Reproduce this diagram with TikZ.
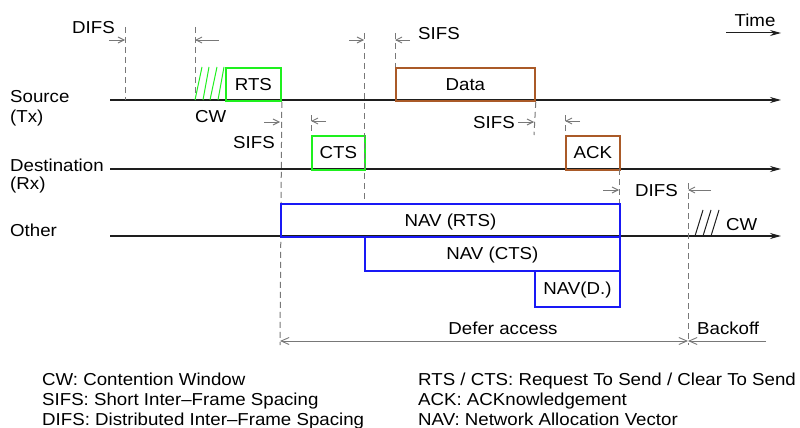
\documentclass[tikz,border=0pt]{standalone}
\usepackage{fontspec}
\setmainfont{Liberation Sans}[FakeStretch=1.08]
\usetikzlibrary{arrows.meta}
\definecolor{cgreen}{RGB}{30,240,30}
\definecolor{cbrown}{RGB}{170,90,40}
\definecolor{cblue}{RGB}{25,25,245}
\definecolor{cgray}{RGB}{120,120,120}
\definecolor{caxis}{RGB}{30,30,30}
\newcommand\myfs{\fontsize{17.3}{20}\selectfont}
\begin{document}
\begin{tikzpicture}[x=1pt,y=-1pt,
  lbl/.style={font=\myfs, inner sep=0pt},
  axisline/.style={draw=caxis, line width=1.4pt, -{Stealth[length=11pt,width=6pt]}},
  vdash/.style={draw=cgray, line width=1pt, dash pattern=on 6pt off 4pt},
  chev/.style={draw=cgray, line width=0.9pt, -{Straight Barb[length=6pt,width=6pt]}},
  defer/.style={draw=cgray, line width=0.9pt},
  boxframe/.style={rectangle, line width=1.8pt, inner sep=0pt, anchor=north west,
    font=\myfs, text height=12pt, text depth=0pt, align=center},
  gbox/.style={boxframe, draw=cgreen},
  bbox/.style={boxframe, draw=cbrown},
  nbox/.style={boxframe, draw=cblue},
  hatchg/.style={draw=cgreen, line width=1pt},
  hatchk/.style={draw=caxis, line width=1pt}
]
\useasboundingbox (0,0) rectangle (800,428);

% axes
\coordinate (s0) at (110,100); \coordinate (s1) at (781,100);
\coordinate (d0) at (110,169); \coordinate (d1) at (781,169);
\coordinate (o0) at (110,236); \coordinate (o1) at (781,236);
\coordinate (t0) at (726,33);  \coordinate (t1) at (781,33);
\draw[axisline] (s0) -- (s1);
\draw[axisline] (d0) -- (d1);
\draw[axisline] (o0) -- (o1);
\draw[axisline, line width=1pt] (t0) -- (t1);
\node[lbl, anchor=base] (time) at (755,27) {Time};

% row labels
\node[lbl, anchor=base west] (srcl) at (10,102) {Source};
\node[lbl, anchor=base west] (txl) at (10,122) {(Tx)};
\node[lbl, anchor=base west] (dstl) at (10,171) {Destination};
\node[lbl, anchor=base west] (rxl) at (10,189) {(Rx)};
\node[lbl, anchor=base west] (othl) at (10,236) {Other};

% frames
\node[gbox, minimum width=55pt, minimum height=33pt] (rts) at (225,67) {RTS};
\node[bbox, minimum width=139pt, minimum height=33pt] (data) at (395,67) {Data};
\node[gbox, minimum width=53pt, minimum height=34pt] (cts) at (311,135) {CTS};
\node[bbox, minimum width=54pt, minimum height=34pt] (ack) at (565,135) {ACK};

% dashed markers
\coordinate (a1) at (125,27); \coordinate (a2) at (125,100);
\coordinate (b1) at (195,27); \coordinate (b2) at (195,100);
\coordinate (c2) at (280,345);
\coordinate (e1) at (311,115);
\coordinate (f1) at (364,33); \coordinate (f2) at (364,203);
\coordinate (g1) at (395,33);
\coordinate (h2) at (534,135);
\coordinate (i1) at (565,115);
\coordinate (j1) at (619,169); \coordinate (j2) at (619,203);
\coordinate (k1) at (688,183); \coordinate (k2) at (688,345);
\draw[vdash] (a1) -- (a2);
\draw[vdash] (b1) -- (b2);
\draw[vdash] (rts.south east) -- (c2);
\draw[vdash] (e1) -- (cts.north west);
\draw[vdash] (f1) -- (f2);
\draw[vdash] (g1) -- (data.north west);
\draw[vdash] (data.south east) -- (h2);
\draw[vdash] (i1) -- (ack.north west);
\draw[vdash] (j1) -- (j2);
\draw[vdash] (k1) -- (k2);

% NAV boxes
\node[nbox, minimum width=339pt, minimum height=33pt] (navr) at (280,203) {NAV (RTS)};
\node[nbox, minimum width=255pt, minimum height=34pt] (navc) at (364,236) {NAV (CTS)};
\node[nbox, minimum width=85pt, minimum height=36pt] (navd) at (534,270) {NAV(D.)};

% hatches
\draw[hatchg] (195,100) -- (202,67);
\draw[hatchg] (203,100) -- (209,67);
\draw[hatchg] (210,100) -- (217,67);
\draw[hatchg] (218,100) -- (224,67);
\draw[hatchk] (695,236) -- (703,210);
\draw[hatchk] (703,236) -- (711,210);
\draw[hatchk] (711,236) -- (719,210);

% chevron time marks
\coordinate (m1a) at (109,40);  \coordinate (m1b) at (125,40);
\coordinate (m2a) at (219,40);  \coordinate (m2b) at (195,40);
\coordinate (m3a) at (264,122); \coordinate (m3b) at (280,122);
\coordinate (m4a) at (326,121); \coordinate (m4b) at (311,121);
\coordinate (m5a) at (349,40);  \coordinate (m5b) at (364,40);
\coordinate (m6a) at (410,40);  \coordinate (m6b) at (395,40);
\coordinate (m7a) at (518,122); \coordinate (m7b) at (534,122);
\coordinate (m8a) at (580,121); \coordinate (m8b) at (565,121);
\coordinate (m9a) at (603,190); \coordinate (m9b) at (619,190);
\coordinate (m10a) at (711,190); \coordinate (m10b) at (688,190);
\foreach \n in {1,...,10} {\draw[chev] (m\n a) -- (m\n b);}

% timing labels
\node[lbl, anchor=base west] (difs1) at (72,34) {DIFS};
\node[lbl, anchor=base west] (cw1) at (195,122) {CW};
\node[lbl, anchor=base west] (sifs1) at (233,148) {SIFS};
\node[lbl, anchor=base west] (sifs2) at (418,40) {SIFS};
\node[lbl, anchor=base west] (sifs3) at (473,128) {SIFS};
\node[lbl, anchor=base west] (difs2) at (635,196) {DIFS};
\node[lbl, anchor=base west] (cw2) at (726,230) {CW};

% defer / backoff
\coordinate (df0) at (280,341); \coordinate (df1) at (688,341);
\coordinate (bk1) at (766,341);
\draw[defer, {Straight Barb[length=8pt,width=7pt]}-{Straight Barb[length=8pt,width=7pt]}] (df0) -- (df1);
\draw[defer, -{Straight Barb[length=8pt,width=7pt]}] (bk1) -- (df1);
\node[lbl, anchor=base] (deferl) at (503,334) {Defer access};
\node[lbl, anchor=base west] (backl) at (697,334) {Backoff};

% legend
\node[lbl, anchor=base west] (lg1) at (42,385) {CW: Contention Window};
\node[lbl, anchor=base west] (lg2) at (42,405) {SIFS: Short Inter–Frame Spacing};
\node[lbl, anchor=base west] (lg3) at (42,425) {DIFS: Distributed Inter–Frame Spacing};
\node[lbl, anchor=base west] (lg4) at (418,385) {RTS / CTS: Request To Send / Clear To Send};
\node[lbl, anchor=base west] (lg5) at (418,405) {ACK: ACKnowledgement};
\node[lbl, anchor=base west] (lg6) at (418,425) {NAV: Network Allocation Vector};
\end{tikzpicture}
\end{document}
